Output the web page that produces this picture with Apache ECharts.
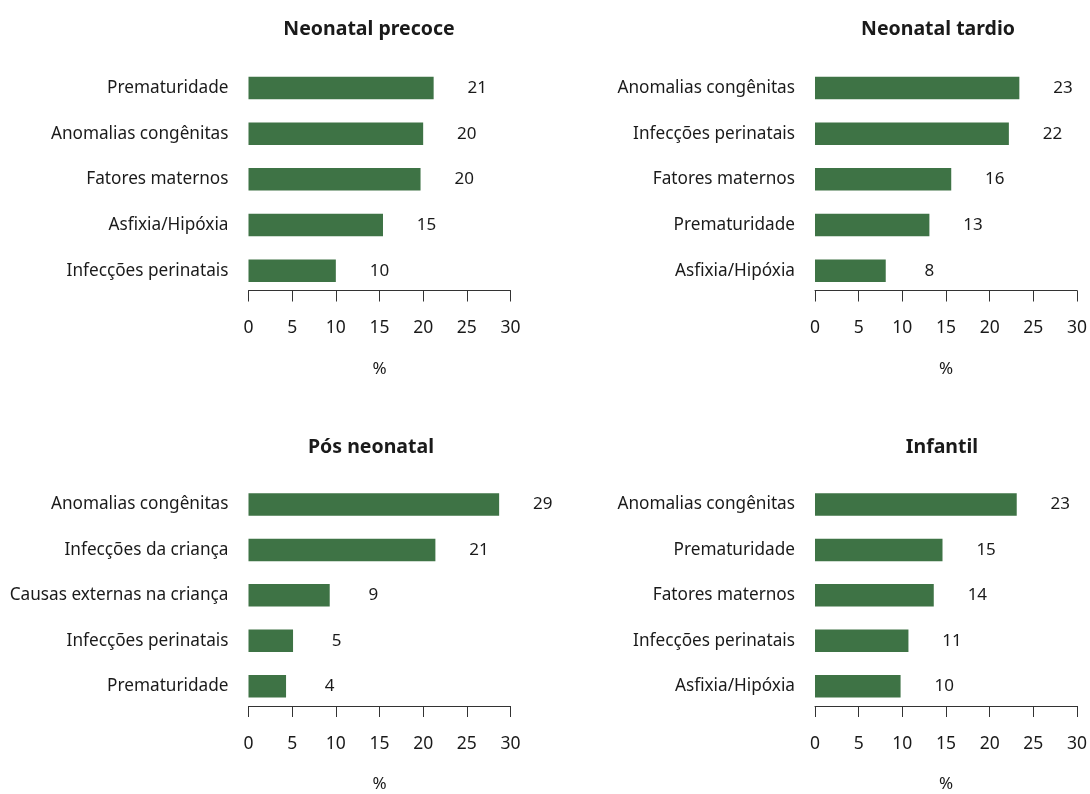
<!DOCTYPE html>
<html>
<head>
<meta charset="utf-8">
<script src="https://cdn.jsdelivr.net/npm/echarts@6/dist/echarts.min.js"></script>
<style>html,body{margin:0;padding:0;background:#fff}#c{width:1090px;height:794px}</style>
</head>
<body>
<div id="c"></div>
<script>
const titles = ['Neonatal precoce', 'Neonatal tardio', 'Pós neonatal', 'Infantil'];
const cats1 = ['Prematuridade', 'Anomalias congênitas', 'Fatores maternos', 'Asfixia/Hipóxia', 'Infecções perinatais'];
const vals1 = [21.2, 20.0, 19.7, 15.4, 10.0];
const cats2 = ['Anomalias congênitas', 'Infecções perinatais', 'Fatores maternos', 'Prematuridade', 'Asfixia/Hipóxia'];
const vals2 = [23.4, 22.2, 15.6, 13.1, 8.1];
const cats3 = ['Anomalias congênitas', 'Infecções da criança', 'Causas externas na criança', 'Infecções perinatais', 'Prematuridade'];
const vals3 = [28.7, 21.4, 9.3, 5.1, 4.3];
const cats4 = ['Anomalias congênitas', 'Prematuridade', 'Fatores maternos', 'Infecções perinatais', 'Asfixia/Hipóxia'];
const vals4 = [23.1, 14.6, 13.6, 10.7, 9.8];
const xTicks = [0, 5, 10, 15, 20, 25, 30];
const axisName = '%';

const allCats = [cats1, cats2, cats3, cats4];
const allVals = [vals1, vals2, vals3, vals4];

const FONT = 'Noto Sans';
const TXT = '#1a1a1a';
const GREEN = '#3e7345';
const lefts = [248.5, 815, 248.5, 815];
const tops = [65.2, 65.2, 481.7, 481.7];
const W = 262, H = 228.3;
const titleX = [364, 933, 366, 937];
const titleY = [14, 14, 432, 432];

const chart = echarts.init(document.getElementById('c'), null, {renderer: 'canvas'});
const grid = [], xAxis = [], yAxis = [], series = [], title = [];
for (let i = 0; i < 4; i++) {
  grid.push({left: lefts[i], top: tops[i], width: W, height: H, containLabel: false});
  title.push({
    text: titles[i], left: titleX[i], top: titleY[i], textAlign: 'center',
    textStyle: {fontFamily: FONT, fontWeight: 'bold', fontSize: 19.5, color: TXT}
  });
  xAxis.push({
    type: 'value', gridIndex: i, min: xTicks[0], max: xTicks[xTicks.length - 1], interval: 5,
    offset: -3,
    name: axisName, nameLocation: 'middle', nameGap: 70,
    nameTextStyle: {fontFamily: FONT, fontSize: 17, color: TXT},
    axisLine: {show: true, lineStyle: {color: '#333', width: 1}},
    axisTick: {show: true, length: 11, lineStyle: {color: '#333', width: 1}},
    axisLabel: {fontFamily: FONT, fontSize: 17.5, color: TXT, margin: 29},
    splitLine: {show: false}
  });
  yAxis.push({
    type: 'category', gridIndex: i, data: allCats[i], inverse: true,
    axisLine: {show: false}, axisTick: {show: false},
    axisLabel: {fontFamily: FONT, fontSize: 17.2, color: TXT, margin: 20},
    splitLine: {show: false}
  });
  series.push({
    type: 'bar', xAxisIndex: i, yAxisIndex: i, data: allVals[i],
    barWidth: 22.5,
    itemStyle: {color: GREEN},
    label: {
      show: true, position: 'right', distance: 43.6, align: 'center',
      fontFamily: FONT, fontSize: 17, color: TXT,
      formatter: p => Math.round(p.value)
    },
    animation: false
  });
}
chart.setOption({animation: false, title, grid, xAxis, yAxis, series});
</script>
</body>
</html>
